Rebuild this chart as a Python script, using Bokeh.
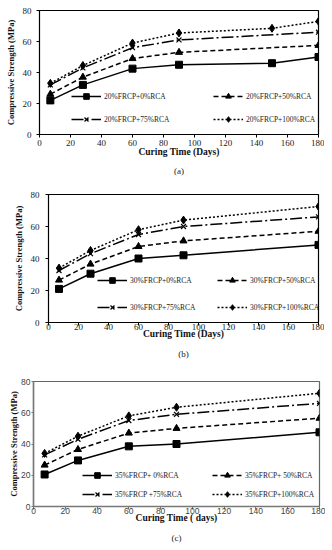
from bokeh.plotting import figure
from bokeh.layouts import column
from bokeh.models import FixedTicker, Legend, LegendItem, Title, Range1d
from bokeh.embed import file_html
from bokeh.resources import INLINE

# ---------------- data ----------------
# Panel (a) 20% FRCP
a_days_0 = [7, 28, 60, 90, 150, 180]
a_rca_0 = [22, 32, 42.5, 45, 46, 50]
a_days_50 = [7, 28, 60, 90, 180]
a_rca_50 = [26, 37, 49, 53, 57.5]
a_days_75 = [7, 28, 60, 90, 180]
a_rca_75 = [32, 43, 56, 61, 66]
a_days_100 = [7, 28, 60, 90, 150, 180]
a_rca_100 = [33, 44.5, 59, 65.5, 68.5, 73]

# Panel (b) 30% FRCP
b_days = [7, 28, 60, 90, 180]
b_rca_0 = [21, 30.5, 40, 42, 48.5]
b_rca_50 = [26.5, 36.5, 47.5, 51, 57]
b_rca_75 = [32.5, 43, 55, 60, 66]
b_rca_100 = [34, 45, 58, 64, 72.5]

# Panel (c) 35% FRCP
c_days = [7, 28, 60, 90, 180]
c_rca_0 = [20.5, 29.5, 38.5, 40, 47.5]
c_rca_50 = [26.5, 36.5, 47, 50, 56.5]
c_rca_75 = [33, 43, 55, 59, 66]
c_rca_100 = [34, 45, 58, 63.5, 72.5]

labels_a = ["20%FRCP+0%RCA", "20%FRCP+50%RCA", "20%FRCP+75%RCA", "20%FRCP+100%RCA"]
labels_b = ["30%FRCP+0%RCA", "30%FRCP+50%RCA", "30%FRCP+75%RCA", "30%FRCP+100%RCA"]
labels_c = ["35%FRCP+ 0%RCA", "35%FRCP+ 50%RCA", "35%FRCP +75%RCA", "35%FRCP+100%RCA"]

x_ticks = [0, 20, 40, 60, 80, 100, 120, 140, 160, 180]
y_ticks = [0, 20, 40, 60, 80]

SERIF = "Liberation Serif"
SANS = "Liberation Sans"

styles = [
    dict(dash="solid", marker="square", size=7),
    dict(dash="5 3", marker="triangle", size=7),
    dict(dash="12 3 2 3", marker="x", size=7),
    dict(dash="2 2", marker="diamond", size=8),
]


def make_legend(items, loc, sp):
    return Legend(items=items, location=loc, orientation="vertical",
                  label_text_font=SERIF, label_text_font_size="7.5px",
                  label_text_color="#222222",
                  glyph_width=30, glyph_height=14, label_standoff=3,
                  spacing=sp, padding=2, margin=0,
                  border_line_alpha=0, background_fill_alpha=0)


def panel(series, labels, xlabel, caption, w, h, top, bottom, left, sans,
          leg_loc, col_pitch, leg_sp, xs1, xs2, ys1, ys2, cap_sd):
    p = figure(width=w, height=h, output_backend="svg", toolbar_location=None,
               x_range=Range1d(0, 180), y_range=Range1d(0, 80),
               min_border_left=left, min_border_right=6,
               min_border_top=top, min_border_bottom=bottom,
               frame_align=False)
    p.xgrid.visible = False
    p.ygrid.visible = False
    p.outline_line_color = "#666666" if sans else "black"
    p.outline_line_width = 1.2
    p.background_fill_color = "white"
    p.border_fill_color = "white"

    items = []
    for (xs, ys), lab, st in zip(series, labels, styles):
        r1 = p.line(xs, ys, line_color="black", line_width=1.5, line_dash=st["dash"])
        if st["marker"] == "x":
            r2 = p.scatter(xs, ys, marker="x", size=st["size"], line_color="black",
                           line_width=1.2)
        else:
            r2 = p.scatter(xs, ys, marker=st["marker"], size=st["size"],
                           fill_color="black", line_color="black")
        items.append(LegendItem(label=lab, renderers=[r1, r2]))

    # left column: 0% / 75% ; right column: 50% / 100%
    p.add_layout(make_legend([items[0], items[2]], leg_loc, leg_sp))
    p.add_layout(make_legend([items[1], items[3]],
                             (leg_loc[0] + col_pitch, leg_loc[1]), leg_sp))

    axcol = "#777777" if sans else "black"
    for ax in (p.xaxis[0], p.yaxis[0]):
        ax.axis_line_color = axcol
        ax.axis_line_width = 1.5 if sans else 1
        ax.major_tick_line_color = axcol
        ax.major_tick_out = 3
        ax.major_tick_in = 0
        ax.minor_tick_line_color = None
        ax.major_label_text_font = SANS if sans else SERIF
        ax.major_label_text_font_size = "8.5px" if sans else "9px"
        ax.major_label_text_color = "#444444" if sans else "#222222"
        ax.axis_label_text_font = SERIF
        ax.axis_label_text_font_style = "bold"
        ax.axis_label_text_color = "#111111"
    p.xaxis.axis_label_text_font_size = "9.5px"
    p.yaxis.axis_label_text_font_size = "8.5px"
    p.xaxis.major_label_standoff = xs1
    p.xaxis.axis_label_standoff = xs2
    p.yaxis.major_label_standoff = ys1
    p.yaxis.axis_label_standoff = ys2
    if sans:
        p.yaxis.major_tick_out = 2
    p.xaxis.ticker = FixedTicker(ticks=x_ticks)
    p.yaxis.ticker = FixedTicker(ticks=y_ticks)
    p.xaxis.axis_label = xlabel
    p.yaxis.axis_label = "Compressive Strength (MPa)"

    t = Title(text=caption, align="center", text_font=SERIF, text_font_style="normal",
              text_font_size="9px", text_color="#222222", standoff=cap_sd)
    p.add_layout(t, "below")
    return p


pa = panel([(a_days_0, a_rca_0), (a_days_50, a_rca_50), (a_days_75, a_rca_75),
            (a_days_100, a_rca_100)], labels_a, "Curing Time (Days)", "(a)",
           324, 180, 10, 45, 39, False, (30, 6), 142, 9, 2, -2, 5, 4, 9)
pb = panel([(b_days, b_rca_0), (b_days, b_rca_50), (b_days, b_rca_75),
            (b_days, b_rca_100)], labels_b, "Curing Time (Days)", "(b)",
           324, 185, 14, 43, 48, False, (47, 6), 120, 13, -2, -4, 6, 4, 11)
pc = panel([(c_days, c_rca_0), (c_days, c_rca_50), (c_days, c_rca_75),
            (c_days, c_rca_100)], labels_c, "Curing Time ( days)", "(c)",
           325, 185, 16, 44, 33, True, (47, 3), 130, 5, -2, -4, 1, -1, 11)

layout = column(pa, pb, pc, spacing=0)
open("out.html", "w").write(file_html(layout, INLINE))
